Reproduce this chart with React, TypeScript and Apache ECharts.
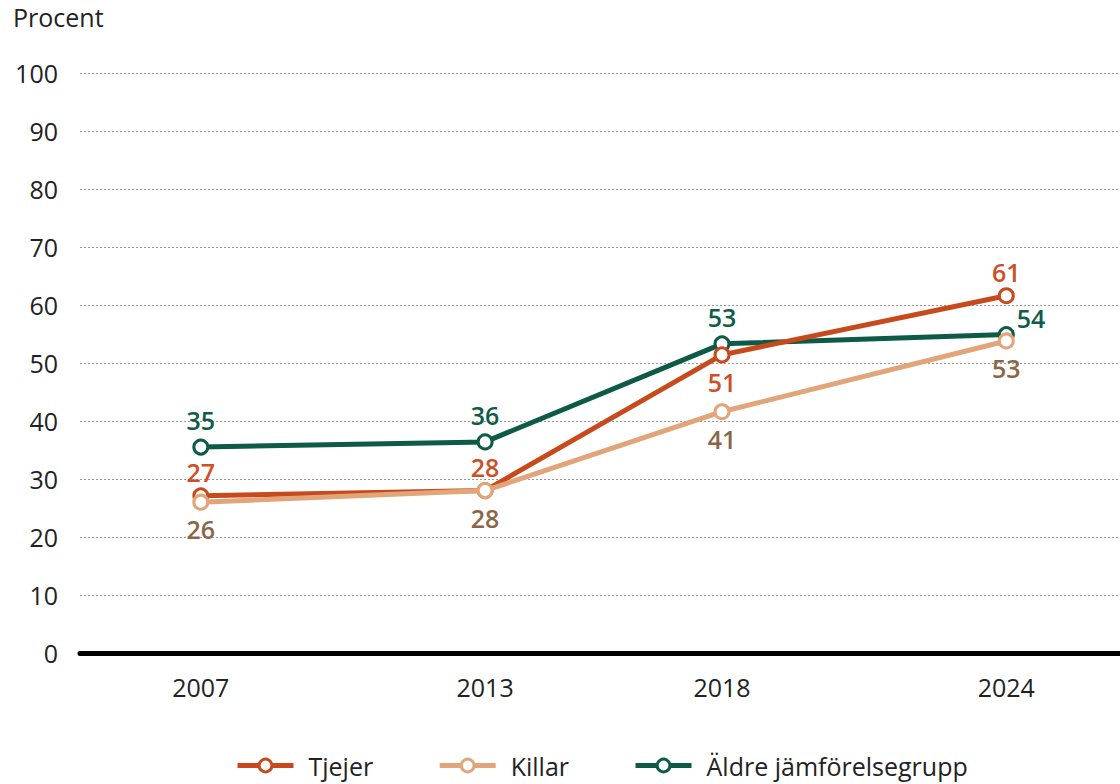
import React, { useEffect, useRef } from "react";
import * as echarts from "echarts";

const years = [2007, 2013, 2018, 2024];
const tjejer = [27.1, 28.0, 51.4, 61.6];
const killar = [26.0, 28.0, 41.6, 53.8];
const aldre = [35.5, 36.4, 53.3, 54.9];
const seriesNames = ["Tjejer", "Killar", "Äldre jämförelsegrupp"];
const yTicks = [0, 10, 20, 30, 40, 50, 60, 70, 80, 90, 100];

const FONT = "Open Sans";
const FS = 25;

function pts(vals: number[]) {
  return vals.map((v, i) => [years[i], v]);
}

export default function App() {
  const ref = useRef<HTMLDivElement>(null);
  useEffect(() => {
    document.body.style.margin = "0";
    if (!ref.current) return;
    const chart = echarts.init(ref.current, null, { renderer: "svg" });
    const lbl = (color: string) => ({
      show: true,
      color,
      fontFamily: FONT,
      fontSize: FS,
      fontWeight: 600,
      formatter: (p: any) => String(Math.floor(p.value[1])),
    });
    const option: any = {
      animation: false,
      textStyle: { fontFamily: FONT },
      title: {
        text: "Procent",
        left: 8,
        top: -1,
        textStyle: { fontFamily: FONT, fontSize: FS, fontWeight: "normal", color: "#222" },
      },
      grid: { left: 80, right: 0, top: 73, height: 580 },
      xAxis: {
        type: "value",
        min: 2004.45,
        max: 2026.4,
        axisLine: { show: true, onZero: false, lineStyle: { color: "#000", width: 5 } },
        axisTick: { show: false },
        splitLine: { show: false },
        axisLabel: {
          customValues: years,
          formatter: (v: number) => String(v),
          fontFamily: FONT,
          fontSize: FS,
          color: "#222",
          margin: 21,
        },
      },
      yAxis: {
        type: "value",
        min: 0,
        max: 100,
        interval: 10,
        axisLine: { show: false },
        axisTick: { show: false },
        axisLabel: {
          customValues: yTicks,
          fontFamily: FONT,
          fontSize: FS,
          color: "#222",
          margin: 22,
        },
        splitLine: { show: true, lineStyle: { color: "#999", width: 1, type: [2, 2] } },
      },
      legend: {
        bottom: 1,
        left: 230,
        itemWidth: 56,
        itemHeight: 16,
        itemGap: 64,
        lineStyle: { width: 5 },
        itemStyle: { borderWidth: 3 },
        textStyle: { fontFamily: FONT, fontSize: FS, color: "#222", padding: [0, 0, 0, 10] },
        data: seriesNames,
      },
      series: [
        {
          name: seriesNames[0],
          type: "line",
          data: pts(tjejer).map((d, i) =>
            i === 2 ? { value: d, label: { position: "bottom", distance: 6 } } : { value: d }
          ),
          symbol: "circle",
          symbolSize: 14,
          itemStyle: { color: "#fff", borderColor: "#c84a1c", borderWidth: 3 },
          lineStyle: { color: "#c84a1c", width: 5 },
          label: { ...lbl("#cf4f25"), position: "top", distance: 3 },
          emphasis: { disabled: true },
          z: 2,
        },
        {
          name: seriesNames[1],
          type: "line",
          data: pts(killar).map((d) => ({ value: d })),
          symbol: "circle",
          symbolSize: 14,
          itemStyle: { color: "#fff", borderColor: "#e2a57a", borderWidth: 3 },
          lineStyle: { color: "#e2a57a", width: 5 },
          label: { ...lbl("#8a6647"), position: "bottom", distance: 6 },
          emphasis: { disabled: true },
          z: 3,
        },
        {
          name: seriesNames[2],
          type: "line",
          data: pts(aldre).map((d, i) =>
            i === 3
              ? { value: d, label: { position: "right", distance: 2, offset: [0, -17] } }
              : { value: d }
          ),
          symbol: "circle",
          symbolSize: 14,
          itemStyle: { color: "#fff", borderColor: "#0d5a46", borderWidth: 3 },
          lineStyle: { color: "#0d5a46", width: 5 },
          label: { ...lbl("#0f5c48"), position: "top", distance: 6 },
          emphasis: { disabled: true },
          z: 1,
        },
      ],
    };
    chart.setOption(option);
    return () => chart.dispose();
  }, []);
  return <div ref={ref} style={{ width: 1120, height: 784 }} />;
}
